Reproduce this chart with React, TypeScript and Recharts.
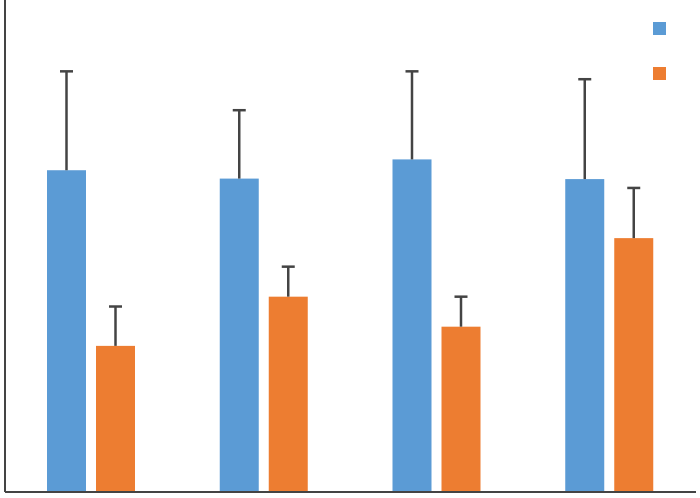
import React from "react";
import { BarChart, Bar, XAxis, YAxis } from "recharts";

const categories = ["A", "B", "C", "D"];
const blueValues = [65.4, 63.7, 67.6, 63.6];
const blueErrors = [20.1, 13.9, 17.9, 20.3];
const orangeValues = [29.7, 39.7, 33.6, 51.6];
const orangeErrors = [8.0, 6.1, 6.1, 10.2];
const seriesColors = ["#5B9BD5", "#ED7D31"];

const data = categories.map((c, i) => ({
  name: c,
  blue: blueValues[i],
  blueErr: blueErrors[i],
  orange: orangeValues[i],
  orangeErr: orangeErrors[i],
}));

const ERR = "#444444";

const makeShape = (valKey: string, errKey: string) => (props: any) => {
  const { x, y, width, height, fill, payload } = props;
  const v = payload[valKey];
  const e = payload[errKey];
  const pxPerUnit = v ? height / v : 0;
  const errPx = e * pxPerUnit;
  const cx = x + width / 2;
  const top = y - errPx;
  return (
    <g>
      <rect x={x} y={y} width={width} height={height} fill={fill} />
      <line x1={cx} y1={y} x2={cx} y2={top} stroke={ERR} strokeWidth={2.5} />
      <line x1={cx - 6.5} y1={top} x2={cx + 6.5} y2={top} stroke={ERR} strokeWidth={2.5} />
    </g>
  );
};

export default function App() {
  return (
    <div style={{ position: "absolute", left: 0, top: 0, width: 700, height: 498, background: "#fff" }}>
      <BarChart
        width={700}
        height={498}
        data={data}
        margin={{ top: 0, right: 4, left: 4, bottom: 5 }}
        barSize={39}
        barGap={10}
      >
        <XAxis
          dataKey="name"
          tick={false}
          tickLine={false}
          height={1}
          axisLine={{ stroke: "#444", strokeWidth: 2 }}
        />
        <YAxis
          domain={[0, 100]}
          tick={false}
          tickLine={false}
          width={1}
          axisLine={{ stroke: "#444", strokeWidth: 2 }}
        />
        <Bar
          dataKey="blue"
          fill={seriesColors[0]}
          isAnimationActive={false}
          shape={makeShape("blue", "blueErr")}
        />
        <Bar
          dataKey="orange"
          fill={seriesColors[1]}
          isAnimationActive={false}
          shape={makeShape("orange", "orangeErr")}
        />
      </BarChart>
      <div style={{ position: "absolute", left: 653, top: 22 }}>
        {seriesColors.map((c, i) => (
          <div key={i} style={{ width: 13, height: 13, background: c, marginBottom: 32 }} />
        ))}
      </div>
    </div>
  );
}
